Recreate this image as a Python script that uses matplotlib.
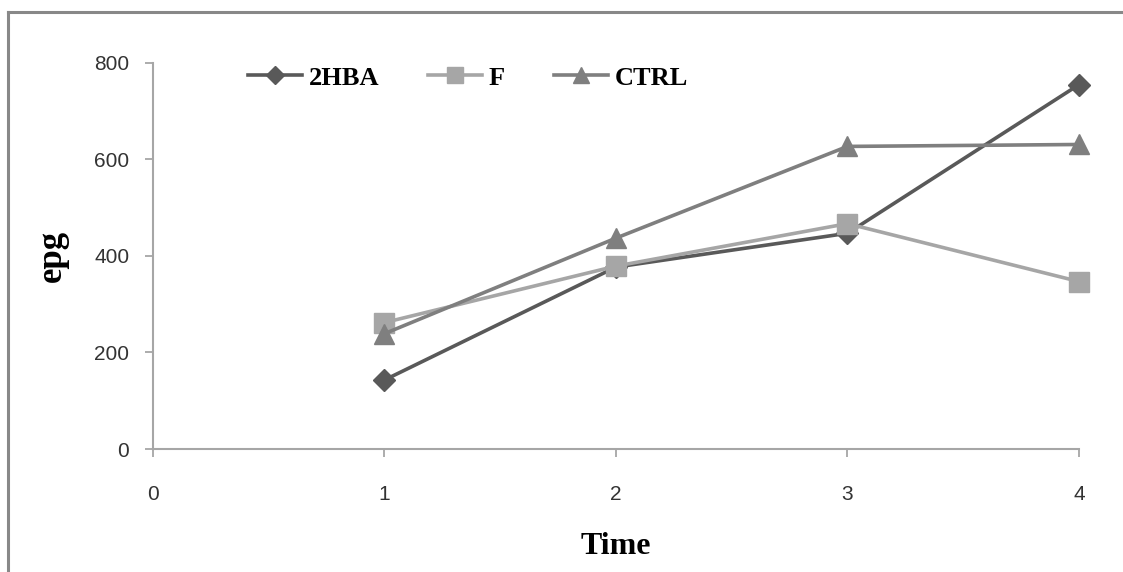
import matplotlib
matplotlib.use("Agg")
import matplotlib.pyplot as plt
from matplotlib.lines import Line2D

time = [1, 2, 3, 4]
hba = [143, 377, 447, 755]
f_vals = [262, 379, 467, 347]
ctrl = [239, 437, 627, 631]
x_ticks = [0, 1, 2, 3, 4]
y_ticks = [0, 200, 400, 600, 800]

fig = plt.figure(figsize=(11.23, 5.72), dpi=100)
ax = fig.add_axes([0.1362, 0.215, 0.8246, 0.675])

ax.plot(time, hba, color="#595959", lw=2.6, marker="D", ms=11, label="2HBA")
ax.plot(time, f_vals, color="#a6a6a6", lw=2.6, marker="s", ms=14, label="F")
ax.plot(time, ctrl, color="#7f7f7f", lw=2.6, marker="^", ms=14, label="CTRL")

ax.set_xlim(0, 4)
ax.set_ylim(0, 800)
ax.set_xticks(x_ticks)
ax.set_yticks(y_ticks)
for s in ["top", "right"]:
    ax.spines[s].set_visible(False)
for s in ["left", "bottom"]:
    ax.spines[s].set_color("#a6a6a6")
    ax.spines[s].set_linewidth(1.5)
ax.tick_params(axis="both", colors="#a6a6a6", length=6, width=1.3,
               labelcolor="#333333", labelsize=15)
ax.tick_params(axis="y", pad=11)
ax.tick_params(axis="x", pad=20)
for t in ax.get_xticklabels() + ax.get_yticklabels():
    t.set_fontfamily("Liberation Sans")
ax.set_ylabel("epg", fontfamily="Liberation Serif", fontweight="bold",
              fontsize=25, labelpad=18)
ax.set_xlabel("Time", fontfamily="Liberation Serif", fontweight="bold",
              fontsize=23, labelpad=20)
for l in ax.lines:
    l.set_clip_on(False)

leg = ax.legend(loc="center left", bbox_to_anchor=(0.1026, 0.961), ncol=3, frameon=False,
                borderpad=0, borderaxespad=0,
                prop={"family": "Liberation Serif", "weight": "bold", "size": 19},
                handlelength=2.05, columnspacing=1.85, handletextpad=0.25, markerscale=0.85)

fig.add_artist(Line2D([8 / 1123, 1.0], [1 - 12 / 572, 1 - 12 / 572], transform=fig.transFigure,
                      color="#888888", lw=2.2))
fig.add_artist(Line2D([8 / 1123, 8 / 1123], [1 - 12 / 572, 0.0], transform=fig.transFigure,
                      color="#888888", lw=2.2))

fig.savefig("out.png", dpi=100)
